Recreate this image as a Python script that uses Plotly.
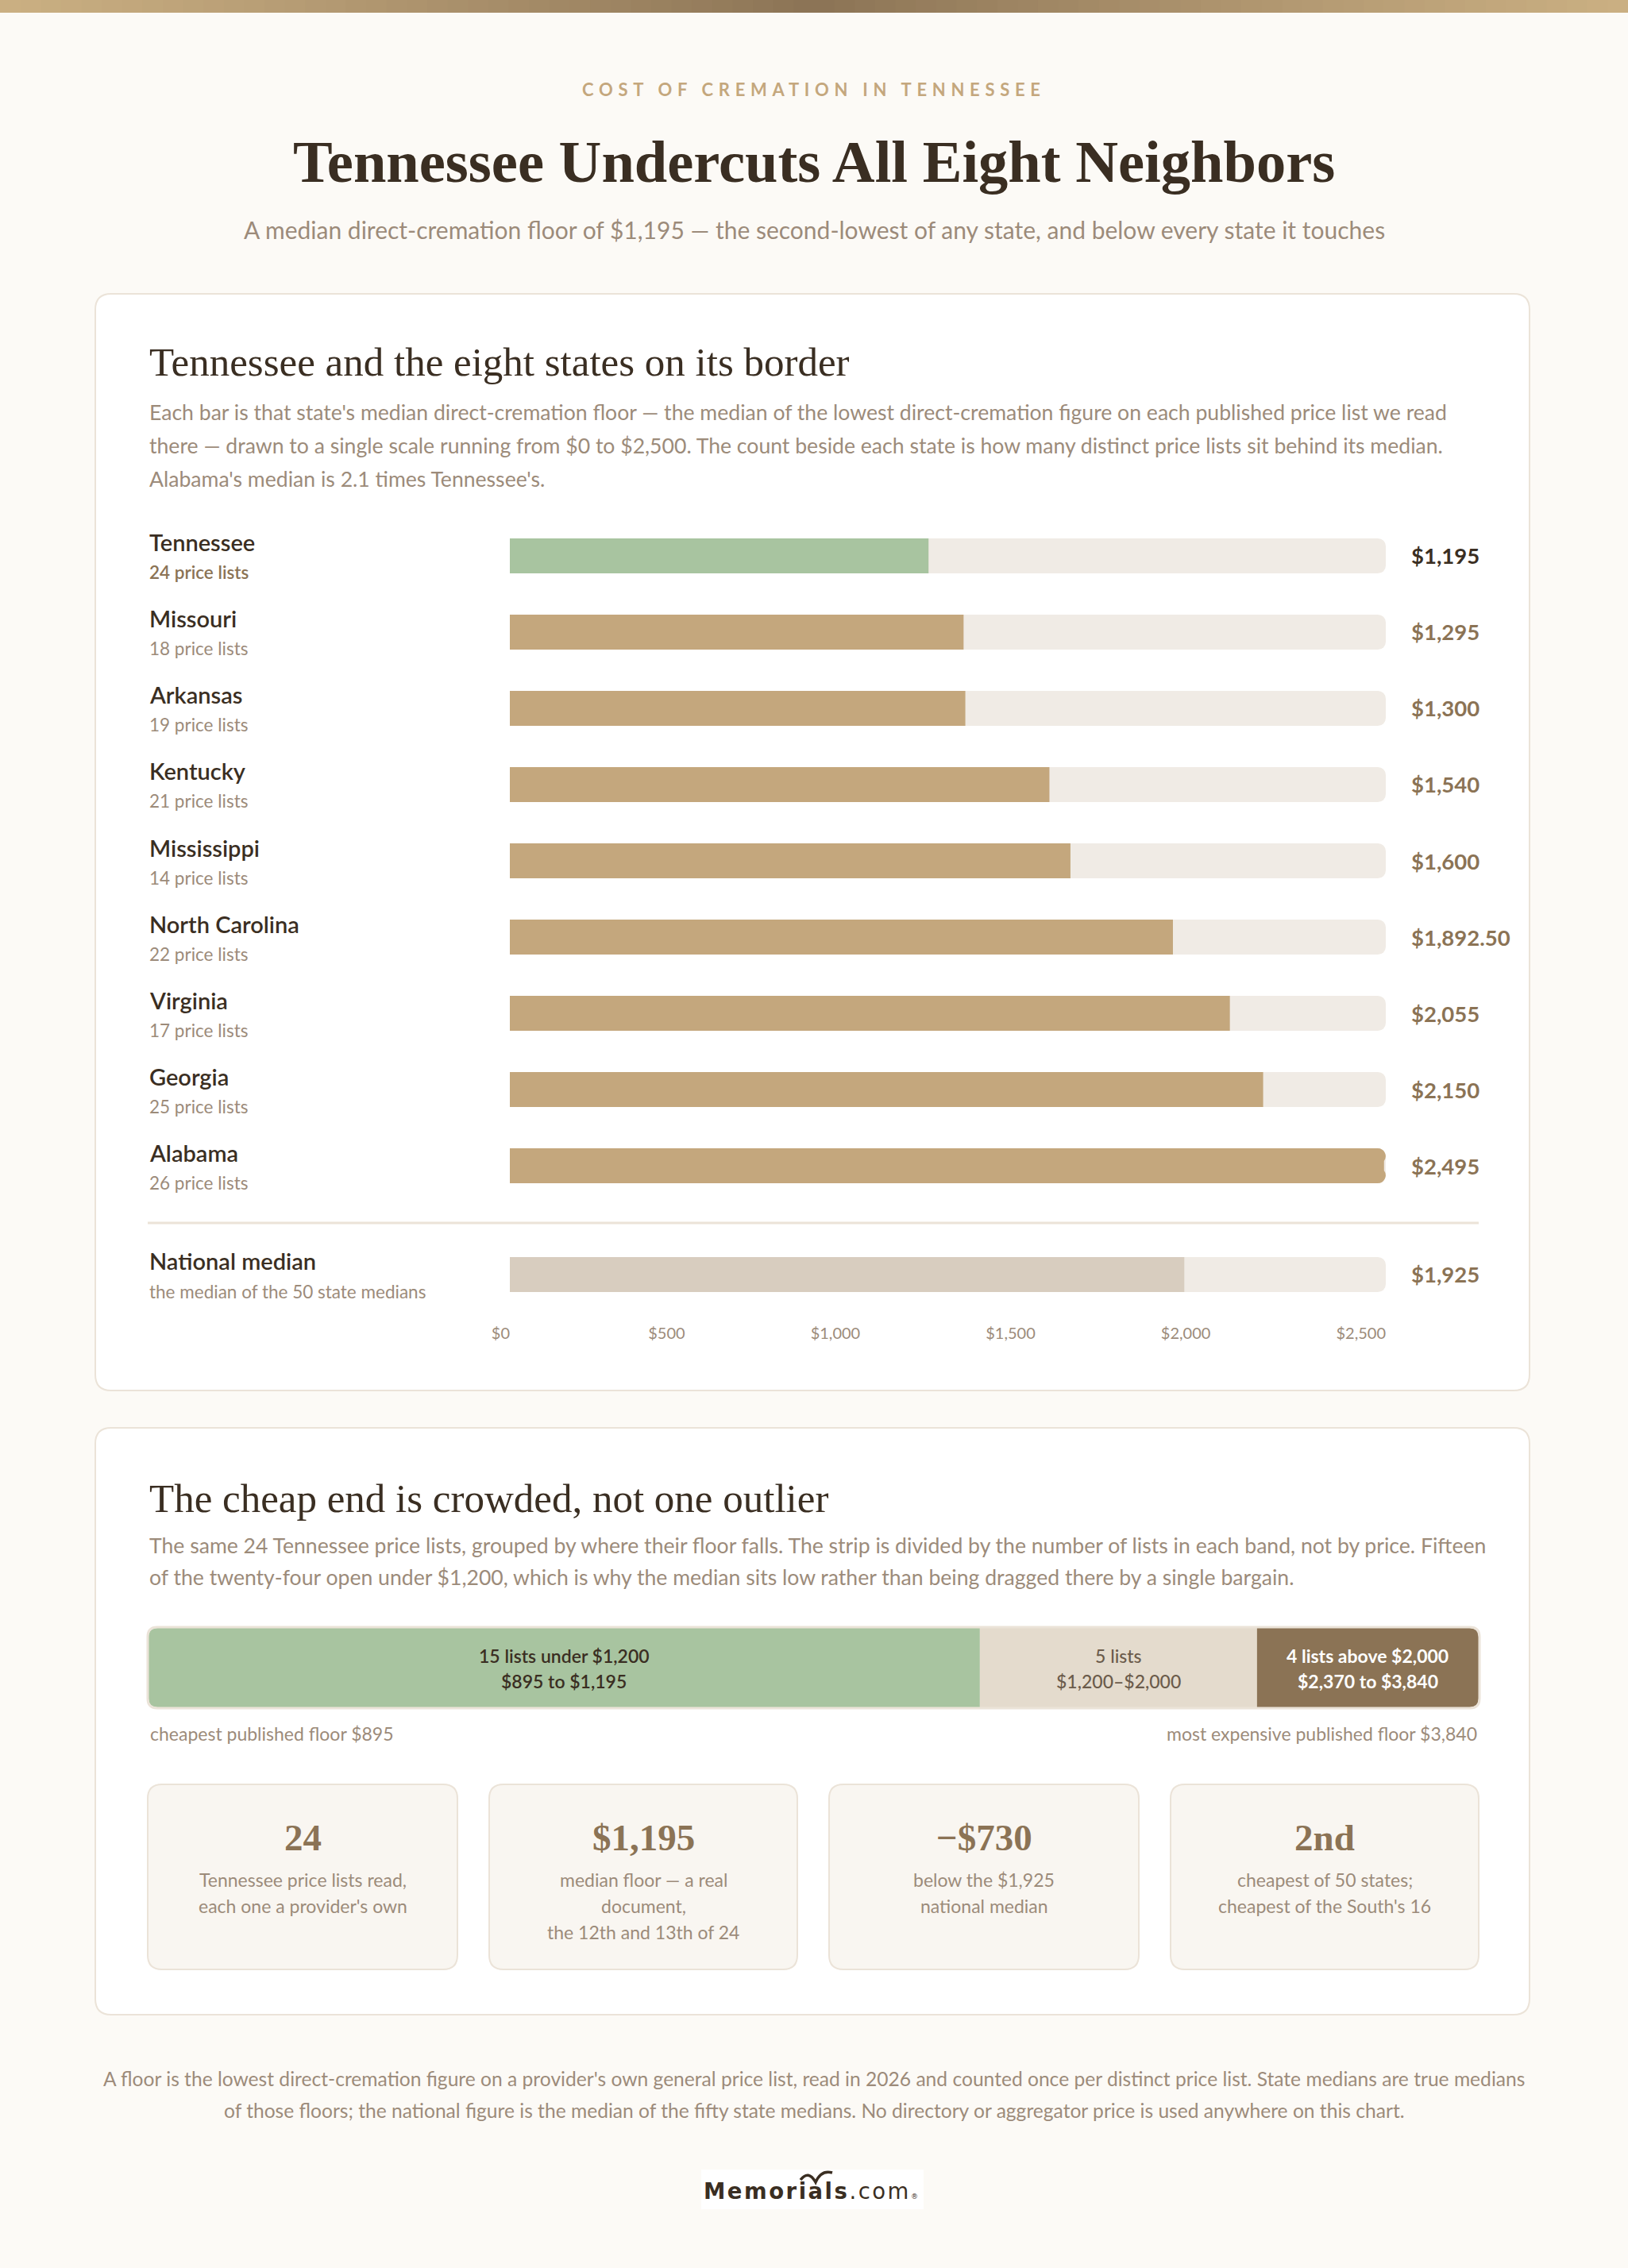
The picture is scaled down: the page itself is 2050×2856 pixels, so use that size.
import plotly.graph_objects as go

# ---------------- data ----------------
states = ["Tennessee", "Missouri", "Arkansas", "Kentucky", "Mississippi",
          "North Carolina", "Virginia", "Georgia", "Alabama"]
medians = [1195, 1295, 1300, 1540, 1600, 1892.50, 2055, 2150, 2495]
list_counts = [24, 18, 19, 21, 14, 22, 17, 25, 26]
highlight_state = "Tennessee"

national_label = "National median"
national_sub = "the median of the 50 state medians"
national_median = 1925

scale_max = 2500
tick_values = [0, 500, 1000, 1500, 2000, 2500]
tick_labels = ["$0", "$500", "$1,000", "$1,500", "$2,000", "$2,500"]

band_counts = [15, 5, 4]
band_line1 = ["15 lists under $1,200", "5 lists", "4 lists above $2,000"]
band_line2 = ["$895 to $1,195", "$1,200\u2013$2,000", "$2,370 to $3,840"]
cheapest_note = "cheapest published floor $895"
priciest_note = "most expensive published floor $3,840"

stat_values = ["24", "$1,195", "\u2212$730", "2nd"]
stat_captions = [
    ["Tennessee price lists read,", "each one a provider's own"],
    ["median floor \u2014 a real", "document,", "the 12th and 13th of 24"],
    ["below the $1,925", "national median"],
    ["cheapest of 50 states;", "cheapest of the South's 16"],
]

# ---------------- style ----------------
W, H = 2050, 2856
BG = "#FCFAF6"
CARD = "#FFFFFF"
BORDER = "#EBE3D8"
DARK = "#3A2E22"
BROWN = "#8B7355"
MUTED = "#9C8B7A"
TAN = "#C4A77D"
GREEN = "#A8C4A0"
TRACK = "#F0EBE5"
NAT = "#D8CDBF"
BEIGE = "#E4DBCD"
STATBG = "#F9F6F1"
SANS = "Lato, 'Noto Sans', sans-serif"
SERIF = "'Liberation Serif', 'DejaVu Serif', serif"


def X(px):
    return px / W


def Y(py):
    return 1 - py / H


def rrect_path(x0, y0, x1, y1, r):
    pts = [
        ("M", [(x0 + r, y0)]), ("L", [(x1 - r, y0)]), ("Q", [(x1, y0), (x1, y0 + r)]),
        ("L", [(x1, y1 - r)]), ("Q", [(x1, y1), (x1 - r, y1)]),
        ("L", [(x0 + r, y1)]), ("Q", [(x0, y1), (x0, y1 - r)]),
        ("L", [(x0, y0 + r)]), ("Q", [(x0, y0), (x0 + r, y0)]),
    ]
    s = ""
    for cmd, ps in pts:
        s += cmd + " " + " ".join(f"{X(a):.6f},{Y(b):.6f}" for a, b in ps) + " "
    return s + "Z"


shapes = []


def card(x0, y0, x1, y1, r, fill, border=BORDER, width=2, layer="below"):
    shapes.append(dict(type="path", path=rrect_path(x0, y0, x1, y1, r), xref="paper", yref="paper",
                       fillcolor=fill, line=dict(color=border, width=width), layer=layer))


annotations = []


def txt(x, y, text, size, color, weight=400, family=SANS, anchor="left", xref="paper", yref="paper", yshift=0):
    annotations.append(dict(
        x=X(x) if xref == "paper" else x, y=Y(y) if yref == "paper" else y,
        xref=xref, yref=yref, text=text, showarrow=False, xanchor=anchor, yanchor="middle",
        yshift=yshift, font=dict(size=size, color=color, family=family, weight=weight)))


def money(v):
    return f"${v:,.0f}" if float(v).is_integer() else f"${v:,.2f}"


# ---------------- top gradient band ----------------
def mix(c1, c2, t):
    a = [int(c1[i:i + 2], 16) for i in (1, 3, 5)]
    b = [int(c2[i:i + 2], 16) for i in (1, 3, 5)]
    return "#" + "".join(f"{round(a[k] + (b[k] - a[k]) * t):02x}" for k in range(3))


N = 80
for i in range(N):
    xc = (i + 0.5) / N
    t = min(1, abs(xc - 0.5) / 0.5) ** 0.9
    shapes.append(dict(type="rect", xref="paper", yref="paper", x0=i / N, x1=min(1, (i + 1) / N + 0.001),
                       y0=Y(16), y1=1, fillcolor=mix("#8B7355", "#CBB083", t), line=dict(width=0),
                       layer="below"))

# ---------------- header ----------------
txt(1025, 113, '<span style="letter-spacing:6.7px">COST OF CREMATION IN TENNESSEE</span>', 22, TAN, 700,
    anchor="center")
txt(1025, 204, "Tennessee Undercuts All Eight Neighbors", 74.5, DARK, 700, SERIF, anchor="center")
txt(1025, 289, "A median direct-cremation floor of $1,195 \u2014 the second-lowest of any state, and below every state it touches",
    30, MUTED, anchor="center")

# ---------------- card 1 ----------------
card(120, 370, 1926, 1751, 20, CARD)
txt(186, 456, "Tennessee and the eight states on its border", 51, DARK, 400, SERIF)
desc1 = [
    "Each bar is that state's median direct-cremation floor \u2014 the median of the lowest direct-cremation figure on each published price list we read",
    "there \u2014 drawn to a single scale running from $0 to $2,500. The count beside each state is how many distinct price lists sit behind its median.",
    "Alabama's median is 2.1 times Tennessee's.",
]
for k, line in enumerate(desc1):
    txt(186, 519 + 42 * k, line, 26.6, MUTED)

fig = go.Figure()
fig.add_trace(go.Bar(y=states, x=[scale_max] * len(states), orientation="h", width=0.46,
                     marker=dict(color=TRACK, cornerradius=10, line=dict(width=0)),
                     xaxis="x", yaxis="y", hoverinfo="skip", showlegend=False))
fig.add_trace(go.Bar(y=states, x=medians, orientation="h", width=0.46,
                     marker=dict(color=[GREEN if s == highlight_state else TAN for s in states],
                                 cornerradius=10, line=dict(width=0)),
                     xaxis="x", yaxis="y", hoverinfo="skip", showlegend=False))

for i, (s, c, v) in enumerate(zip(states, list_counts, medians)):
    hl = s == highlight_state
    txt(186, i, s, 29, DARK, 600, yref="y", yshift=17)
    txt(186, i, f"{c} price lists", 22.5, BROWN if hl else MUTED, 600 if hl else 400, yref="y", yshift=-21)
    txt(1775, i, money(v), 27.5, DARK if hl else BROWN, 700, yref="y")

shapes.append(dict(type="line", xref="paper", yref="paper", x0=X(186), x1=X(1862), y0=Y(1540), y1=Y(1540),
                   line=dict(color=BORDER, width=3)))

fig.add_trace(go.Bar(y=[national_label], x=[scale_max], orientation="h", width=0.46,
                     marker=dict(color=TRACK, cornerradius=10, line=dict(width=0)),
                     xaxis="x2", yaxis="y2", hoverinfo="skip", showlegend=False))
fig.add_trace(go.Bar(y=[national_label], x=[national_median], orientation="h", width=0.46,
                     marker=dict(color=NAT, cornerradius=10, line=dict(width=0)),
                     xaxis="x2", yaxis="y2", hoverinfo="skip", showlegend=False))
txt(186, 0, national_label, 29, DARK, 600, yref="y2", yshift=17)
txt(186, 0, national_sub, 22.5, MUTED, 400, yref="y2", yshift=-22)
txt(1775, 0, money(national_median), 27.5, BROWN, 700, yref="y2")

# ---------------- card 2 ----------------
card(120, 1798, 1926, 2537, 20, CARD)
txt(186, 1887, "The cheap end is crowded, not one outlier", 51, DARK, 400, SERIF)
desc2 = [
    "The same 24 Tennessee price lists, grouped by where their floor falls. The strip is divided by the number of lists in each band, not by price. Fifteen",
    "of the twenty-four open under $1,200, which is why the median sits low rather than being dragged there by a single bargain.",
]
for k, line in enumerate(desc2):
    txt(186, 1946 + 40 * k, line, 26.6, MUTED)

bases = [sum(band_counts[:j]) for j in range(len(band_counts))]
band_colors = [GREEN, BEIGE, BROWN]
band_text_colors = [DARK, "#6B5B4B", "#FFFFFF"]
band_weights = [600, 500, 700]
fig.add_trace(go.Bar(y=["band"] * len(band_counts), x=band_counts, base=bases, orientation="h", width=1.0,
                     marker=dict(color=band_colors, line=dict(width=0)),
                     xaxis="x3", yaxis="y3", hoverinfo="skip", showlegend=False))
for j in range(len(band_counts)):
    xc = bases[j] + band_counts[j] / 2
    txt(xc, 2085, band_line1[j], 23, band_text_colors[j], band_weights[j], anchor="center", xref="x3")
    txt(xc, 2117, band_line2[j], 23, band_text_colors[j], band_weights[j], anchor="center", xref="x3")

# rounded corners of the strip (masks + outline)
sx0, sy0, sx1, sy1, r = 187, 2050, 1862, 2150, 12


def corner(cx, cy, dx, dy):
    p = (f"M {X(cx):.6f},{Y(cy):.6f} L {X(cx + dx * r):.6f},{Y(cy):.6f} "
         f"Q {X(cx):.6f},{Y(cy):.6f} {X(cx):.6f},{Y(cy + dy * r):.6f} Z")
    shapes.append(dict(type="path", path=p, xref="paper", yref="paper", fillcolor=CARD,
                       line=dict(width=0), layer="above"))


corner(sx0, sy0, 1, 1)
corner(sx1, sy0, -1, 1)
corner(sx0, sy1, 1, -1)
corner(sx1, sy1, -1, -1)
card(sx0 - 1, sy0 - 1, sx1 + 1, sy1 + 1, r, "rgba(0,0,0,0)", BORDER, 3, "above")

txt(187, 2183, cheapest_note, 23, MUTED)
txt(1862, 2183, priciest_note, 23, MUTED, anchor="right")

stat_x = [(186, 576), (616, 1004), (1044, 1434), (1474, 1862)]
for (x0, x1), val, caps in zip(stat_x, stat_values, stat_captions):
    card(x0, 2247, x1, 2480, 18, STATBG)
    xc = (x0 + x1) / 2
    txt(xc, 2314, val, 47, BROWN, 700, SERIF, anchor="center")
    for k, c in enumerate(caps):
        txt(xc, 2367 + 33 * k, c, 23, MUTED, anchor="center")

# ---------------- footer ----------------
foot = [
    "A floor is the lowest direct-cremation figure on a provider's own general price list, read in 2026 and counted once per distinct price list. State medians are true medians",
    "of those floors; the national figure is the median of the fifty state medians. No directory or aggregator price is used anywhere on this chart.",
]
for k, line in enumerate(foot):
    txt(1025, 2617 + 40 * k, line, 24.6, MUTED, anchor="center")

# logo
shapes.append(dict(type="rect", xref="paper", yref="paper", x0=X(883), x1=X(1163), y0=Y(2782), y1=Y(2732),
                   fillcolor="#FFFFFF", line=dict(width=0), layer="below"))
txt(1021, 2759,
    '<span style="letter-spacing:2.5px"><b>Memorials</b>.com</span><span style="font-size:9px">\u00ae</span>',
    27.5, DARK, 400, "'DejaVu Sans', sans-serif", anchor="center")
bird = (f"M {X(1008):.6f},{Y(2745):.6f} Q {X(1018):.6f},{Y(2732):.6f} {X(1027):.6f},{Y(2748):.6f} "
        f"Q {X(1034):.6f},{Y(2732):.6f} {X(1048):.6f},{Y(2736):.6f}")
shapes.append(dict(type="path", path=bird, xref="paper", yref="paper", line=dict(color=DARK, width=3.5),
                   layer="above"))

# ---------------- layout ----------------
fig.update_layout(
    template="none",
    width=W, height=H, autosize=False, margin=dict(l=0, r=0, t=0, b=0, pad=0, autoexpand=False),
    paper_bgcolor=BG, plot_bgcolor="rgba(0,0,0,0)",
    barmode="overlay", showlegend=False,
    shapes=shapes, annotations=annotations,
    xaxis=dict(domain=[X(642), X(1745)], range=[0, scale_max], visible=False, fixedrange=True, anchor="y",
               automargin=False),
    yaxis=dict(domain=[Y(1516), Y(652)], type="category", categoryorder="array", categoryarray=states,
               range=[len(states) - 0.5, -0.5], visible=False, fixedrange=True, anchor="x", automargin=False),
    xaxis2=dict(domain=[X(642), X(1745)], range=[0, scale_max], anchor="y2", fixedrange=True,
                tickmode="array", tickvals=tick_values, ticktext=tick_labels,
                showgrid=False, zeroline=False, showline=False, ticks="", automargin=False,
                ticklabelposition="outside left",
                tickfont=dict(size=20, color=MUTED, family=SANS), ticklabelstandoff=12),
    yaxis2=dict(domain=[Y(1653), Y(1557)], type="category", range=[0.5, -0.5], visible=False,
                fixedrange=True, anchor="x2", automargin=False),
    xaxis3=dict(domain=[X(187), X(1862)], range=[0, sum(band_counts)], visible=False, fixedrange=True,
                anchor="y3", automargin=False),
    yaxis3=dict(domain=[Y(2150), Y(2050)], type="category", range=[-0.5, 0.5], visible=False,
                fixedrange=True, anchor="x3", automargin=False),
    hovermode=False,
)

fig.write_html("out.html", config=dict(displayModeBar=False, staticPlot=True, responsive=False),
               post_script="document.body.style.margin='0';document.body.style.overflow='hidden';"
                           "document.body.style.background='" + BG + "';")
